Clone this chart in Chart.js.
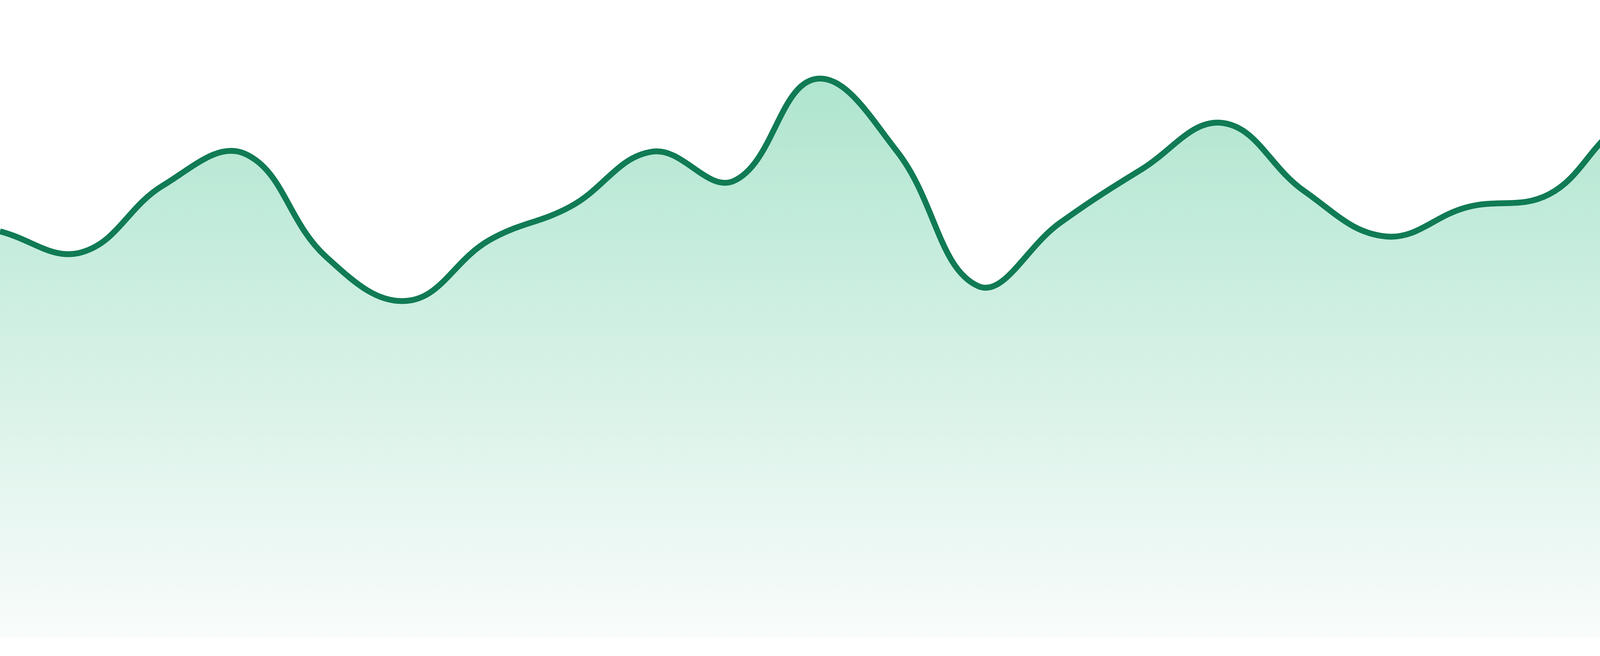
<!DOCTYPE html>
<html>
<head>
<meta charset="utf-8">
<script src="https://cdn.jsdelivr.net/npm/chart.js@4/dist/chart.umd.min.js"></script>
<style>
  html, body { margin: 0; padding: 0; background: #ffffff; }
  #wrap { width: 4800px; height: 1680px; position: relative; }
</style>
</head>
<body>
<div id="wrap"><canvas id="c"></canvas></div>
<script>
// Categories (hidden axis)
const labels = [
  "00:00","01:00","02:00","03:00","04:00","05:00","06:00","07:00",
  "08:00","09:00","10:00","11:00","12:00","13:00","14:00","15:00",
  "16:00","17:00","18:00","19:00","20:00","21:00","22:00","23:00"
];
// Series values
const values = [
  63.7, 60.4, 70.9, 75.9, 59.7, 52.8, 62.3, 67.6,
  76.2, 71.6, 87.6, 76.3, 55.1, 65.0, 73.4, 80.7,
  70.0, 62.9, 67.5, 69.5, 80.7, 76.9, 83.1, 76.0
];
const yMin = 0;
const yMax = 100;

const lineColor = '#107b54';

function areaGradient(context) {
  const chart = context.chart;
  const area = chart.chartArea;
  if (!area) return 'rgba(176,229,207,0.6)';
  const g = chart.ctx.createLinearGradient(0, 0, 0, area.bottom);
  g.addColorStop(0, 'rgb(165,226,201)');
  g.addColorStop(1, 'rgb(249,252,251)');
  return g;
}

new Chart(document.getElementById('c'), {
  type: 'line',
  data: {
    labels: labels,
    datasets: [{
      data: values,
      borderColor: lineColor,
      borderWidth: 15,
      backgroundColor: areaGradient,
      fill: 'start',
      tension: 0.4,
      pointRadius: 0,
      pointHoverRadius: 0
    }]
  },
  options: {
    responsive: true,
    maintainAspectRatio: false,
    animation: false,
    devicePixelRatio: 1,
    layout: { padding: { top: 0, right: 0, bottom: 48, left: 0 } },
    plugins: { legend: { display: false }, tooltip: { enabled: false } },
    scales: {
      x: { display: false, offset: false },
      y: { display: false, min: yMin, max: yMax }
    }
  }
});
</script>
</body>
</html>
